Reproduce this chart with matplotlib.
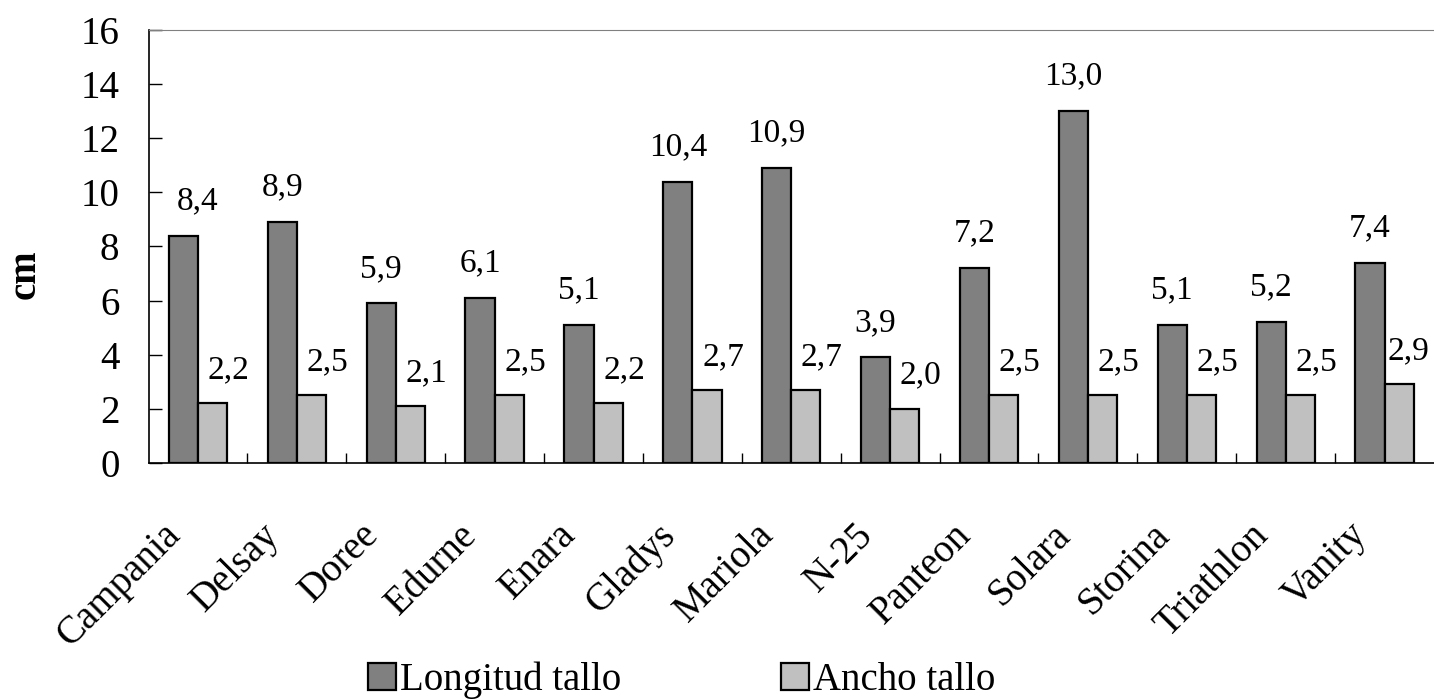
import matplotlib
matplotlib.use("Agg")
import matplotlib.pyplot as plt
import matplotlib.transforms as mtransforms
import numpy as np

variedades = ["Campania", "Delsay", "Doree", "Edurne", "Enara", "Gladys", "Mariola",
              "N-25", "Panteon", "Solara", "Storina", "Triathlon", "Vanity"]
longitud = [8.4, 8.9, 5.9, 6.1, 5.1, 10.4, 10.9, 3.9, 7.2, 13.0, 5.1, 5.2, 7.4]
ancho = [2.2, 2.5, 2.1, 2.5, 2.2, 2.7, 2.7, 2.0, 2.5, 2.5, 2.5, 2.5, 2.9]

plt.rcParams['font.family'] = ['Liberation Serif', 'DejaVu Serif']
FS = 28
FS_VAL = 24

fig = plt.figure(figsize=(14.34, 7.0), dpi=100)
ax = fig.add_axes([0.1036, 0.3386, 0.8964, 0.6186])

x = np.arange(len(variedades))
w = 0.295
b1 = ax.bar(x - w/2, longitud, w, color='#808080', edgecolor='black', linewidth=1.6,
            label='Longitud tallo')
b2 = ax.bar(x + w/2, ancho, w, color='#C0C0C0', edgecolor='black', linewidth=1.6,
            label='Ancho tallo')

# value labels: dark ones centred (first one pushed off the axis), light ones nudged right
for i, (xi, v) in enumerate(zip(x, longitud)):
    dx = 10 if i == 0 else 0
    ax.annotate(f"{v:.1f}".replace('.', ','), (xi - w/2, v), xytext=(dx, 25),
                textcoords='offset points', ha='center', va='center', fontsize=FS_VAL)
for i, (xi, v) in enumerate(zip(x, ancho)):
    dx = 11.5 if i < len(x) - 1 else 7
    ax.annotate(f"{v:.1f}".replace('.', ','), (xi + w/2, v), xytext=(dx, 24),
                textcoords='offset points', ha='center', va='center', fontsize=FS_VAL)

ax.set_xlim(-0.5, len(variedades) - 0.5)
ax.set_ylim(0, 16)
ax.set_yticks(range(0, 17, 2))
ax.tick_params(axis='y', direction='in', length=9, width=1, labelsize=FS, pad=21)

ax.set_xticks(x)
ax.set_xticklabels(variedades, rotation=45, ha='right', va='top',
                   rotation_mode='anchor', fontsize=FS)
ax.tick_params(axis='x', which='major', length=0, pad=40)
shift = mtransforms.ScaledTranslation(-36 / 100, 2 / 100, fig.dpi_scale_trans)
for lbl in ax.get_xticklabels():
    lbl.set_transform(lbl.get_transform() + shift)
ax.set_xticks(x[:-1] + 0.5, minor=True)
ax.tick_params(axis='x', which='minor', direction='in', length=7, width=1)

ax.spines['right'].set_visible(False)
ax.spines['top'].set_color('#808080')
ax.spines['left'].set_linewidth(1.2)
ax.spines['bottom'].set_linewidth(1.2)

ax.set_ylabel('cm', fontsize=FS, fontweight='bold', ha='center', va='center')
ax.yaxis.set_label_coords(-0.096, 0.436)

fig.legend(handles=[b1, b2], loc='center', bbox_to_anchor=(0.4755, 0.028), ncol=2,
           frameon=False, fontsize=FS, handlelength=0.72, handleheight=0.72,
           handletextpad=0.1, columnspacing=4.1)

fig.savefig("out.png", dpi=100)
